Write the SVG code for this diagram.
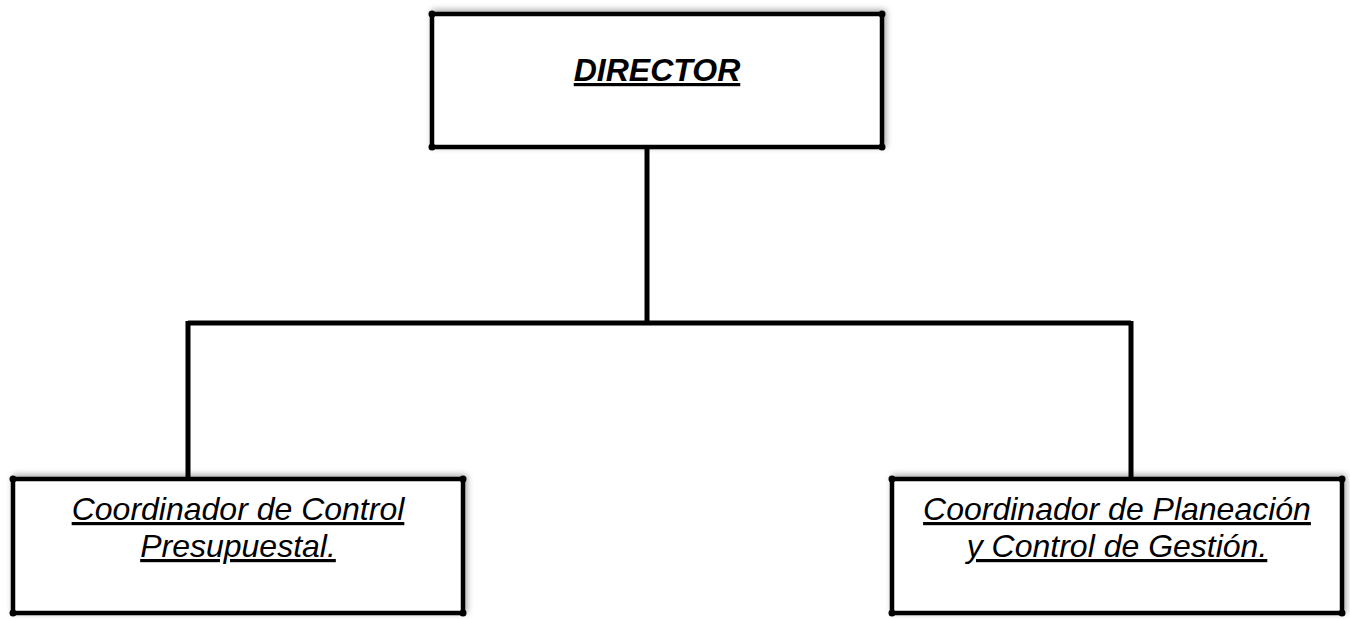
<svg xmlns="http://www.w3.org/2000/svg" width="1350" height="619" viewBox="0 0 1350 619">
<style>
.box{fill:#fff;stroke:#000;stroke-width:4.5}
.dot{fill:#000}
.conn{fill:none;stroke:#000;stroke-width:5;stroke-linejoin:miter;stroke-linecap:butt}
.lbl{font-family:"Liberation Sans",Arial,sans-serif;font-style:italic;text-decoration:underline;fill:#000;text-anchor:middle;font-size:32px}
.bold{font-weight:bold}
</style>
<defs>
<filter id="sh" x="-5%" y="-10%" width="110%" height="120%">
<feGaussianBlur in="SourceAlpha" stdDeviation="3"/>
<feOffset dx="2" dy="-2" result="b"/>
<feComponentTransfer><feFuncA type="linear" slope="0.35"/></feComponentTransfer>
<feMerge><feMergeNode/><feMergeNode in="SourceGraphic"/></feMerge>
</filter>
</defs>
<rect width="1350" height="619" fill="#fff"/>
<g id="connectors">
<path class="conn" d="M647 148 V323 M188 323 H1131 M188 321 V479 M1131 321 V479"/>
</g>
<g id="director">
<rect class="box" x="432" y="14" width="450" height="133" filter="url(#sh)"/>
<circle class="dot" cx="432" cy="14" r="3.5"/><circle class="dot" cx="882" cy="14" r="3.5"/>
<circle class="dot" cx="432" cy="147" r="3.5"/><circle class="dot" cx="882" cy="147" r="3.5"/>
<text class="lbl bold" x="657" y="81">DIRECTOR</text>
</g>
<g id="coord-presupuestal">
<rect class="box" x="13" y="479" width="450" height="134" filter="url(#sh)"/>
<circle class="dot" cx="13" cy="479" r="3.5"/><circle class="dot" cx="463" cy="479" r="3.5"/>
<circle class="dot" cx="13" cy="613" r="3.5"/><circle class="dot" cx="463" cy="613" r="3.5"/>
<text class="lbl" x="238" y="520">Coordinador de Control</text>
<text class="lbl" x="238" y="557">Presupuestal.</text>
</g>
<g id="coord-planeacion">
<rect class="box" x="892" y="479" width="450" height="134" filter="url(#sh)"/>
<circle class="dot" cx="892" cy="479" r="3.5"/><circle class="dot" cx="1342" cy="479" r="3.5"/>
<circle class="dot" cx="892" cy="613" r="3.5"/><circle class="dot" cx="1342" cy="613" r="3.5"/>
<text class="lbl" x="1117" y="520">Coordinador de Planeación</text>
<text class="lbl" x="1117" y="557">y Control de Gestión.</text>
</g>
</svg>
